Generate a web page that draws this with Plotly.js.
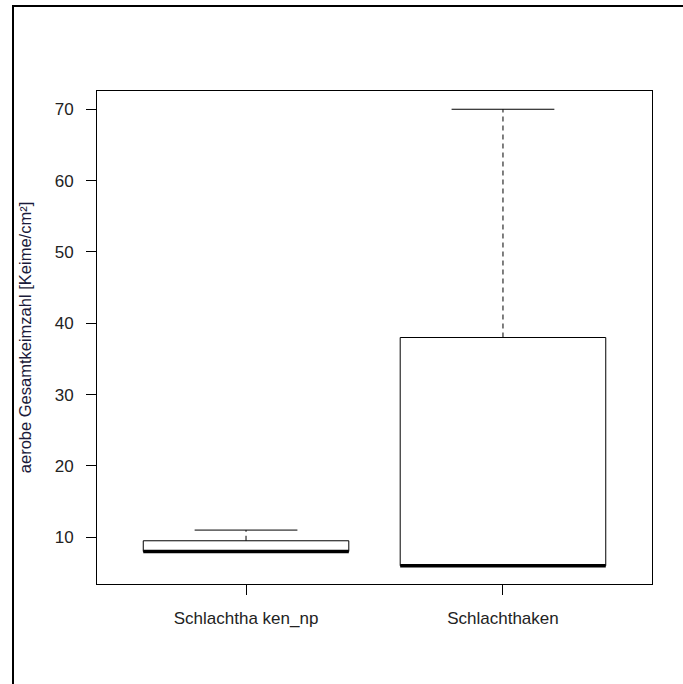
<!DOCTYPE html>
<html>
<head>
<meta charset="utf-8">
<script src="https://cdn.plot.ly/plotly-3.0.1.min.js"></script>
<style>
html,body{margin:0;padding:0;background:#fff;}
#frame{position:absolute;left:12px;top:5px;width:671px;height:679px;border-top:2px solid #000;border-left:2px solid #000;box-sizing:border-box;}
#chart{position:absolute;left:0;top:0;width:683px;height:684px;}
</style>
</head>
<body>
<div id="chart"></div>
<div id="frame"></div>
<script>
// Data
const categories = ['Schlachtha ken_np', 'Schlachthaken'];
const lowerWhisker = [8, 6];
const q1 = [8, 6];
const median = [8, 6];
const q3 = [9.5, 38];
const upperWhisker = [11, 70];
const yTicks = [10, 20, 30, 40, 50, 60, 70];

const halfBox = 0.4;   // boxwex 0.8
const halfCap = 0.2;   // staplewex 0.5
const traces = [];
categories.forEach((c, i) => {
  const x = i + 1;
  traces.push({type:'scatter', mode:'lines', x:[x-halfBox, x+halfBox, x+halfBox, x-halfBox, x-halfBox],
    y:[q1[i], q1[i], q3[i], q3[i], q1[i]], line:{color:'#000', width:1}, hoverinfo:'skip', showlegend:false});
  traces.push({type:'scatter', mode:'lines', x:[x, x], y:[q3[i], upperWhisker[i]],
    line:{color:'#000', width:1, dash:'5px,4px'}, hoverinfo:'skip', showlegend:false});
  traces.push({type:'scatter', mode:'lines', x:[x, x], y:[q1[i], lowerWhisker[i]],
    line:{color:'#000', width:1, dash:'5px,4px'}, hoverinfo:'skip', showlegend:false});
  traces.push({type:'scatter', mode:'lines', x:[x-halfCap, x+halfCap], y:[upperWhisker[i], upperWhisker[i]],
    line:{color:'#000', width:1}, hoverinfo:'skip', showlegend:false});
  traces.push({type:'scatter', mode:'lines', x:[x-halfCap, x+halfCap], y:[lowerWhisker[i], lowerWhisker[i]],
    line:{color:'#000', width:1}, hoverinfo:'skip', showlegend:false});
  traces.push({type:'scatter', mode:'lines', x:[x-halfBox, x+halfBox], y:[median[i], median[i]],
    line:{color:'#000', width:3.5}, hoverinfo:'skip', showlegend:false});
});

const fam = 'Liberation Sans, Arial, sans-serif';
const layout = {
  width:683, height:684,
  margin:{l:97, r:31, t:91, b:100},
  paper_bgcolor:'#fff', plot_bgcolor:'#fff',
  showlegend:false,
  font:{family:fam, size:16, color:'#222'},
  xaxis:{
    type:'linear', range:[0.42, 2.58],
    tickvals:categories.map((c,i)=>i+1), ticktext:categories,
    ticks:'outside', ticklen:10, tickcolor:'#000', tickwidth:1,
    showline:true, mirror:true, linecolor:'#000', linewidth:1,
    showgrid:false, zeroline:false, fixedrange:true,
    tickfont:{family:fam, size:17, color:'#222'}, ticklabelstandoff:9, automargin:false
  },
  yaxis:{
    range:[3.44, 72.56],
    tickvals:yTicks, ticktext:yTicks.map(String),
    ticks:'outside', ticklen:10, tickcolor:'#000', tickwidth:1,
    showline:true, mirror:true, linecolor:'#000', linewidth:1,
    showgrid:false, zeroline:false, fixedrange:true,
    tickfont:{family:fam, size:17, color:'#222'}, ticklabelstandoff:9,
    title:{text:'aerobe Gesamtkeimzahl [Keime/cm²]', font:{family:fam, size:16.5, color:'#1a1a3a'}, standoff:18},
    automargin:true
  }
};
Plotly.newPlot('chart', traces, layout, {displayModeBar:false, staticPlot:true});
</script>
</body>
</html>
